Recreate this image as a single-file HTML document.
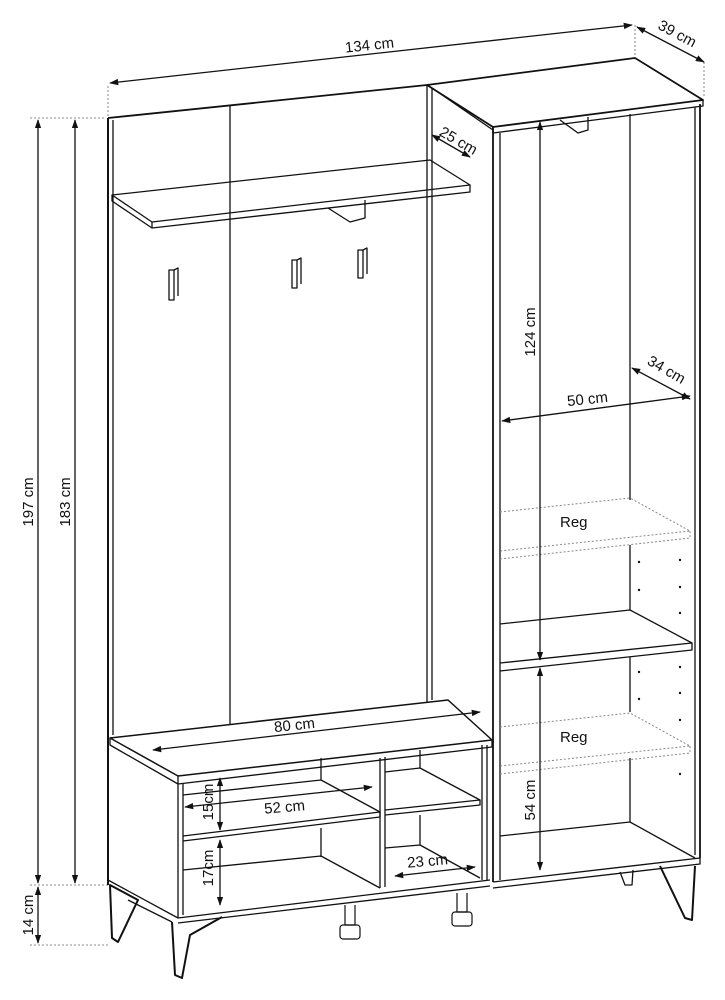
<!DOCTYPE html>
<html><head><meta charset="utf-8"><style>
html,body{margin:0;padding:0;background:#fff;}
svg{display:block;}
text{font-family:"Liberation Sans",Arial,sans-serif;font-size:15px;fill:#111;}
</style></head><body>
<svg width="725" height="1000" viewBox="0 0 725 1000" xmlns="http://www.w3.org/2000/svg">
<defs>
<marker id="a" viewBox="0 0 10 10" refX="9" refY="5" markerWidth="7" markerHeight="7" orient="auto-start-reverse"><path d="M0,1.5 L10,5 L0,8.5 z" fill="#111"/></marker>
</defs>
<g fill="none" stroke="#111" stroke-width="1.3" stroke-linejoin="round">
<g stroke-dasharray="2,2" stroke-width="0.8" stroke="#666">
<line x1="108" y1="86" x2="108" y2="116"/><line x1="635" y1="25" x2="635" y2="57"/><line x1="704" y1="62" x2="704" y2="98"/>
<line x1="30" y1="118" x2="106" y2="118"/><line x1="30" y1="885" x2="108" y2="885"/><line x1="30" y1="945" x2="110" y2="945"/>
</g>
<line x1="110" y1="83" x2="632" y2="25" marker-start="url(#a)" marker-end="url(#a)"/>
<line x1="637" y1="27" x2="704" y2="62" marker-start="url(#a)" marker-end="url(#a)"/>
<line x1="38" y1="120" x2="38" y2="883" marker-start="url(#a)" marker-end="url(#a)"/>
<line x1="75" y1="120" x2="75" y2="883" marker-start="url(#a)" marker-end="url(#a)"/>
<line x1="38" y1="887" x2="38" y2="943" marker-start="url(#a)" marker-end="url(#a)"/>

<path d="M108,118 L427,85" stroke-width="1.8"/>
<path d="M108,118 L108,885" stroke-width="2"/>
<line x1="113" y1="120" x2="113" y2="735"/>
<line x1="230" y1="105" x2="230" y2="725"/>
<line x1="427" y1="85" x2="427" y2="702"/>
<line x1="432" y1="88" x2="432" y2="700"/>
<line x1="427" y1="85" x2="493" y2="127"/>
<line x1="432" y1="88" x2="493" y2="130"/>
<path d="M112,195 L430,160 L470,185 L152,222 Z"/>
<path d="M152,222 L152,228 L470,192 L470,185"/>
<path d="M112,195 L112,201 L152,228"/>
<path d="M328,208 L350,222 L365,218 L365,200"/>
<path d="M169,270 L169,300 L174,300 L174,270 Z M174,270 L178,268 L178,296"/>
<path d="M292,260 L292,288 L297,288 L297,260 Z M297,260 L301,258 L301,284"/>
<path d="M358,250 L358,278 L363,278 L363,250 Z M363,250 L367,248 L367,274"/>
<line x1="432" y1="135" x2="470" y2="157" marker-start="url(#a)" marker-end="url(#a)"/>

<path d="M427,85 L635,58 L703,100 L493,127 Z" stroke-width="1.8"/>
<path d="M493,127 L493,133 L703,106 L703,100"/>
<line x1="493" y1="127" x2="493" y2="882" stroke-width="1.8"/>
<line x1="500" y1="133" x2="500" y2="880"/>
<line x1="700" y1="104" x2="700" y2="858" stroke-width="1.8"/>
<line x1="695" y1="107" x2="695" y2="855"/>
<line x1="630" y1="114" x2="630" y2="500"/>
<line x1="630" y1="545" x2="630" y2="610"/>
<line x1="630" y1="657" x2="630" y2="712"/>
<line x1="630" y1="758" x2="630" y2="822"/>
<path d="M560,120 L578,133 L588,130 L588,117"/>
<path d="M500,624 L630,610 L692,643 L500,663"/>
<path d="M500,671 L692,650 L692,643"/>
<path d="M500,836 L630,822 L695,858"/>
<path d="M493,882 L700,858"/>
<path d="M493,888 L700,864 L700,858"/>
<g stroke-dasharray="2,2" stroke="#888" stroke-width="1">
<path d="M500,512 L630,498 L690,531 L500,551"/><path d="M500,559 L690,538 L690,531"/>
<path d="M500,727 L630,713 L690,746 L500,766"/><path d="M500,774 L690,753 L690,746"/>
</g>
<line x1="540" y1="122" x2="540" y2="660" marker-start="url(#a)" marker-end="url(#a)"/>
<line x1="540" y1="668" x2="540" y2="870" marker-start="url(#a)" marker-end="url(#a)"/>
<line x1="502" y1="421" x2="690" y2="396" marker-start="url(#a)" marker-end="url(#a)"/>
<line x1="632" y1="368" x2="690" y2="399" marker-start="url(#a)" marker-end="url(#a)"/>

<path d="M110,738 L448,700 L492,740 L178,776 Z" stroke-width="1.5"/>
<path d="M110,738 L110,745 L178,784 L178,776"/>
<path d="M178,784 L492,747 L492,740"/>
<line x1="178" y1="784" x2="178" y2="918"/>
<line x1="183" y1="784" x2="183" y2="915"/>
<path d="M108,880 L178,918 L490,880"/>
<path d="M178,923 L490,886"/>
<line x1="153" y1="750" x2="480" y2="712" marker-start="url(#a)" marker-end="url(#a)"/>
<line x1="380" y1="758" x2="380" y2="888"/><line x1="385" y1="757" x2="385" y2="887"/>
<line x1="482" y1="745" x2="482" y2="880"/><line x1="487" y1="745" x2="487" y2="880"/>
<path d="M183,795 L321,780 L380,812 L183,836"/>
<path d="M183,841 L380,817 L380,812"/>
<line x1="321" y1="758" x2="321" y2="780"/><line x1="321" y1="828" x2="321" y2="857"/>
<path d="M183,870 L321,856 L380,888"/>
<path d="M385,772 L420,768 L480,800 L385,810"/><path d="M385,815 L480,805 L480,800"/>
<line x1="420" y1="750" x2="420" y2="768"/><line x1="420" y1="815" x2="420" y2="845"/>
<path d="M385,848 L420,845 L480,878"/>
<line x1="220" y1="778" x2="220" y2="830" marker-start="url(#a)" marker-end="url(#a)"/>
<line x1="220" y1="840" x2="220" y2="905" marker-start="url(#a)" marker-end="url(#a)"/>
<line x1="185" y1="807" x2="372" y2="787" marker-start="url(#a)" marker-end="url(#a)"/>
<line x1="395" y1="876" x2="475" y2="867" marker-start="url(#a)" marker-end="url(#a)"/>
<path d="M110,885 L112,938 L118,942 L138,900 Z" stroke-width="2"/>
<path d="M172,922 L175,975 L182,978 L190,935 L222,917" stroke-width="2"/>
<path d="M128,900 L172,922"/>
<path d="M620,872 L625,885 L632,885 L633,870"/>
<path d="M660,866 L685,918 L692,920 L695,866" stroke-width="2"/>
<g stroke-width="1.2">
<path d="M345,905 L345,925 L355,925 L355,905"/><rect x="340" y="925" width="20" height="14" rx="3"/>
<path d="M457,893 L457,912 L467,912 L467,893"/><rect x="452" y="912" width="20" height="14" rx="3"/>
</g>
</g>
<g fill="#111">
<circle cx="639" cy="562" r="1.2"/><circle cx="680" cy="560" r="1.2"/><circle cx="639" cy="590" r="1.2"/><circle cx="680" cy="587" r="1.2"/><circle cx="680" cy="613" r="1.2"/>
<circle cx="639" cy="672" r="1.2"/><circle cx="680" cy="667" r="1.2"/><circle cx="639" cy="699" r="1.2"/><circle cx="680" cy="693" r="1.2"/><circle cx="680" cy="720" r="1.2"/><circle cx="680" cy="774" r="1.2"/>
</g>
<text x="370" y="50" text-anchor="middle" transform="rotate(-6 370 50)">134 cm</text>
<text x="675" y="38" text-anchor="middle" transform="rotate(28 675 38)">39 cm</text>
<text x="456" y="145" text-anchor="middle" transform="rotate(30 456 145)">25 cm</text>
<text x="33" y="502" text-anchor="middle" transform="rotate(-90 33 502)">197 cm</text>
<text x="70" y="502" text-anchor="middle" transform="rotate(-90 70 502)">183 cm</text>
<text x="33" y="915" text-anchor="middle" transform="rotate(-90 33 915)">14 cm</text>
<text x="535" y="332" text-anchor="middle" transform="rotate(-90 535 332)">124 cm</text>
<text x="535" y="800" text-anchor="middle" transform="rotate(-90 535 800)">54 cm</text>
<text x="588" y="404" text-anchor="middle" transform="rotate(-6 588 404)">50 cm</text>
<text x="664" y="374" text-anchor="middle" transform="rotate(30 664 374)">34 cm</text>
<text x="560" y="527">Reg</text>
<text x="560" y="742">Reg</text>
<text x="295" y="730" text-anchor="middle" transform="rotate(-6 295 730)">80 cm</text>
<text x="285" y="812" text-anchor="middle" transform="rotate(-5 285 812)">52 cm</text>
<text x="428" y="866" text-anchor="middle" transform="rotate(-5 428 866)">23 cm</text>
<text x="213" y="802" text-anchor="middle" transform="rotate(-90 213 802)">15cm</text>
<text x="213" y="868" text-anchor="middle" transform="rotate(-90 213 868)">17cm</text>
</svg>
</body></html>
